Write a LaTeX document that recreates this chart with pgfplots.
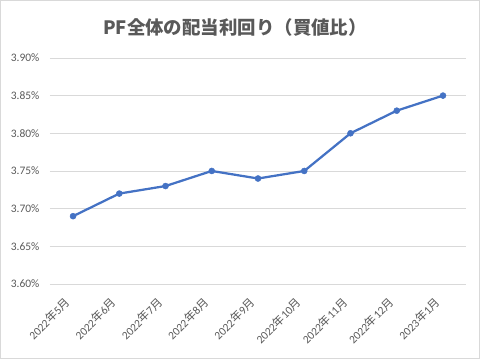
\documentclass[border=0pt]{standalone}
\usepackage{fontspec}
\setmainfont{Carlito}
\newfontfamily\cjk{Noto Sans CJK JP}
\usepackage{pgfplots}
\pgfplotsset{compat=1.18}
\definecolor{txt}{RGB}{89,89,89}
\definecolor{grd}{RGB}{217,217,217}
\definecolor{ln}{RGB}{68,114,196}
\begin{document}
\begin{tikzpicture}[x=1bp,y=1bp]
\draw[grd, line width=0.75bp] (0.5,0.5) rectangle (479.5,358.5);
\node[txt, font=\fontsize{18.5}{22}\selectfont\cjk\bfseries] at (235,331) {PF全体の配当利回り（買値比）};
\begin{axis}[
  at={(50bp,75bp)}, anchor=south west,
  scale only axis, width=416bp, height=226bp,
  xmin=-0.5, xmax=8.5, ymin=3.6, ymax=3.9,
  axis x line*=bottom, axis y line*=left,
  x axis line style={grd, line width=0.75bp, -},
  y axis line style={draw=none},
  ymajorgrids, major grid style={grd, line width=0.75bp},
  ytick={3.60,3.65,3.70,3.75,3.80,3.85,3.90},
  yticklabels={3.60\%,3.65\%,3.70\%,3.75\%,3.80\%,3.85\%,3.90\%},
  xtick={0,...,8},
  xticklabels={2022{\cjk 年}5{\cjk 月},2022{\cjk 年}6{\cjk 月},2022{\cjk 年}7{\cjk 月},2022{\cjk 年}8{\cjk 月},2022{\cjk 年}9{\cjk 月},2022{\cjk 年}10{\cjk 月},2022{\cjk 年}11{\cjk 月},2022{\cjk 年}12{\cjk 月},2023{\cjk 年}1{\cjk 月}},
  minor xtick={-0.5,0.5,...,8.5},
  xtick style={draw=none}, ytick style={draw=none},
  minor x tick style={grd, line width=0.75bp},
  tick align=outside, minor tick length=5bp, major tick length=0pt,
  ticklabel style={txt, font=\fontsize{11.5}{13}\selectfont},
  x tick label style={rotate=45, anchor=north east, xshift=-12bp, yshift=1bp},
  y tick label style={xshift=-7bp},
  clip=false,
]
\addplot[ln, line width=2.25bp, mark=*, mark size=3bp, mark options={solid, fill=ln, draw=ln, line width=0.5bp}] coordinates {
(0,3.69) (1,3.72) (2,3.73) (3,3.75) (4,3.74) (5,3.75) (6,3.80) (7,3.83) (8,3.85)
};
\end{axis}
\end{tikzpicture}
\end{document}
